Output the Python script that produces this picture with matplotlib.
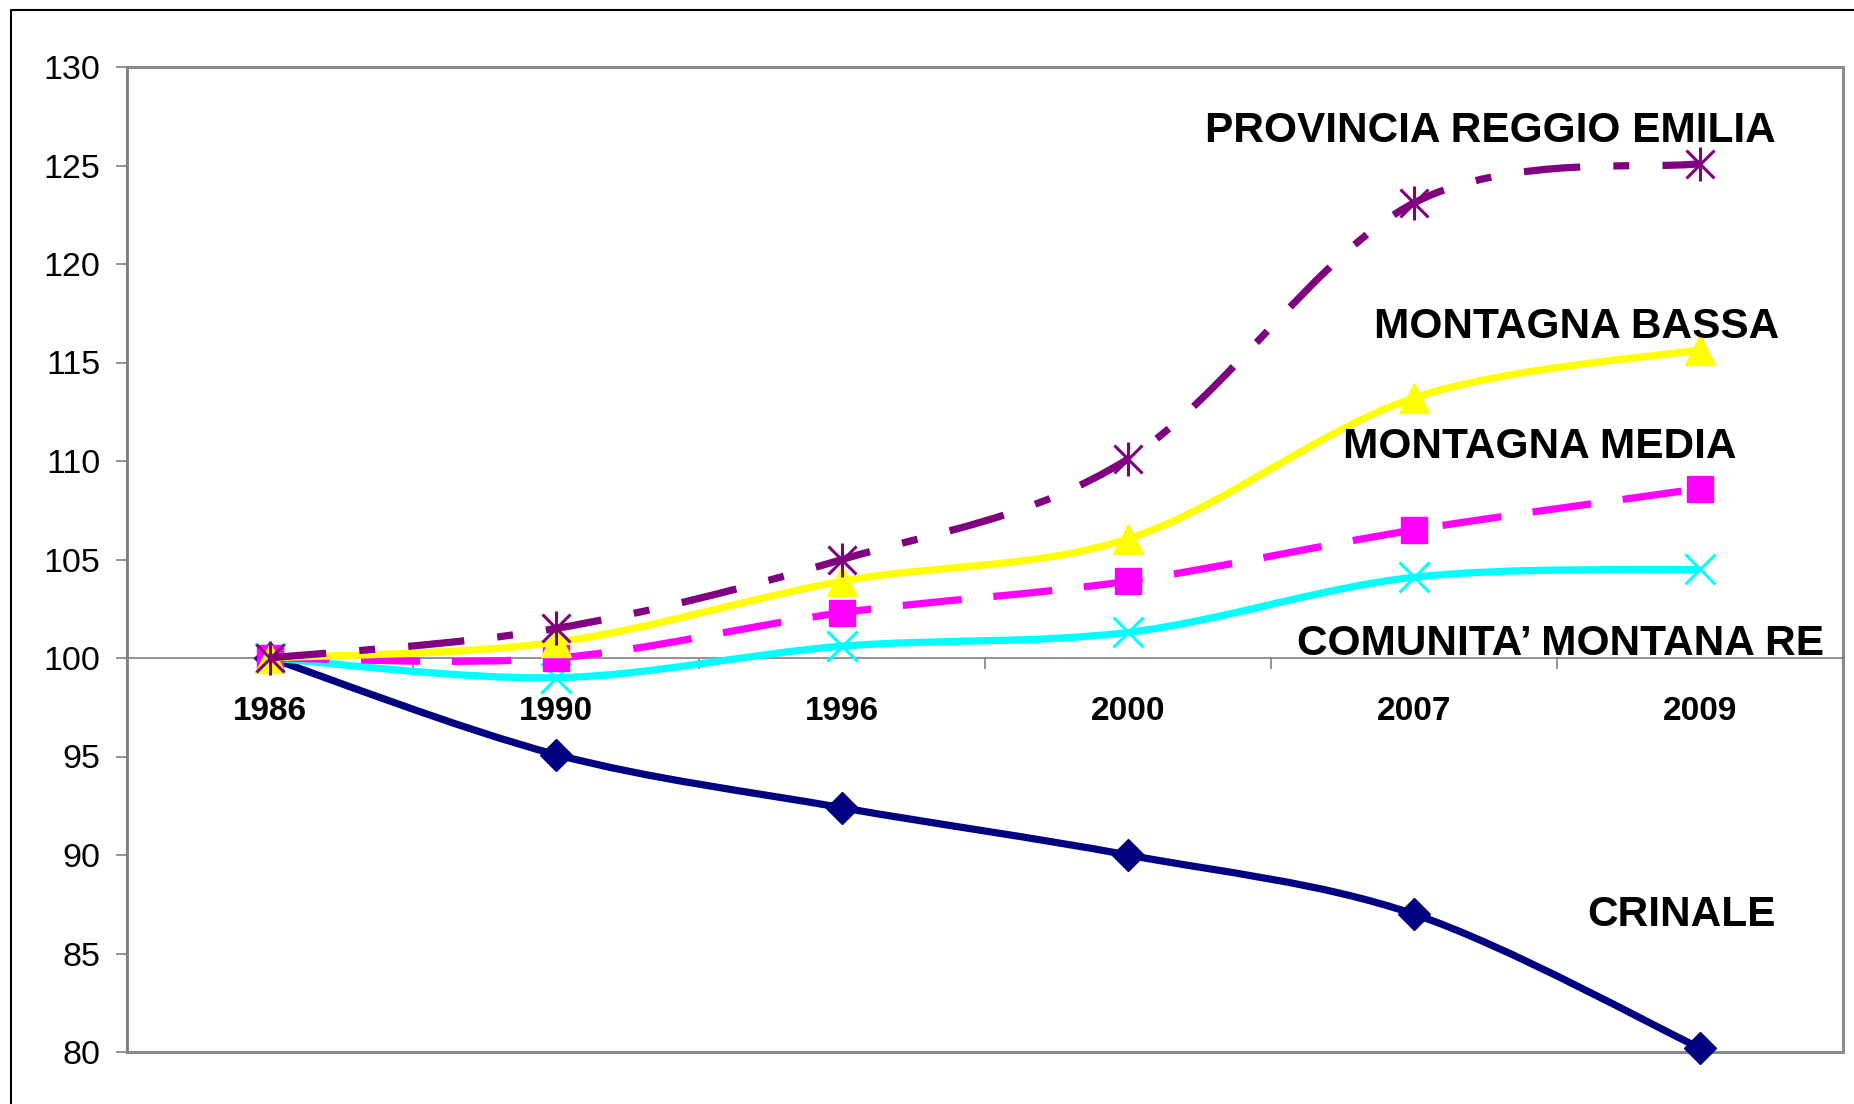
import numpy as np
import matplotlib
matplotlib.use('Agg')
import matplotlib.pyplot as plt
from matplotlib.path import Path
from matplotlib.patches import PathPatch, Rectangle
from matplotlib.lines import Line2D

# ---------------- data ----------------
years = ['1986', '1990', '1996', '2000', '2007', '2009']
provincia = [100, 101.5, 105.0, 110.1, 123.1, 125.1]
montagna_bassa = [100, 100.8, 103.9, 106.05, 113.2, 115.65]
montagna_media = [100, 100.0, 102.3, 103.9, 106.5, 108.6]
comunita = [100, 99.0, 100.6, 101.3, 104.1, 104.5]
crinale = [100, 95.1, 92.4, 90.0, 87.0, 80.2]
series_labels = ['PROVINCIA REGGIO EMILIA', 'MONTAGNA BASSA', 'MONTAGNA MEDIA',
                 'COMUNITA\u2019 MONTANA RE', 'CRINALE']
y_ticks = list(range(80, 131, 5))

plt.rcParams['font.family'] = ['Liberation Sans', 'DejaVu Sans']

W, H = 1854, 1104
fig = plt.figure(figsize=(W / 100, H / 100), dpi=100)
fig.patch.set_facecolor('white')
ax = fig.add_axes([127 / W, 1 - 1052 / H, (1843 - 127) / W, (1052 - 67) / H])
ax.set_xlim(-0.5, 5.5)
ax.set_ylim(80, 130)


def smooth_path(xs, ys):
    pts = np.column_stack([xs, ys]).astype(float)
    n = len(pts)
    verts = [pts[0]]
    codes = [Path.MOVETO]
    for i in range(n - 1):
        p0 = pts[i - 1] if i > 0 else pts[i]
        p1 = pts[i]
        p2 = pts[i + 1]
        p3 = pts[i + 2] if i + 2 < n else pts[i + 1]
        c1 = p1 + (p2 - p0) / 6.0
        c2 = p2 - (p3 - p1) / 6.0
        verts += [c1, c2, p2]
        codes += [Path.CURVE4] * 3
    return Path(verts, codes)


x = np.arange(len(years))
lw = 5.2

# draw order: bottom -> top
specs = [
    (crinale, '#000080', '-', [dict(marker='D', ms=16, mfc='#000080', mec='#000080', mew=1)]),
    (comunita, '#00FFFF', '-', [dict(marker='x', ms=21, mfc='none', mec='#00FFFF', mew=2.2)]),
    (montagna_media, '#FF00FF', (0, (8.2, 4.4)), [dict(marker='s', ms=19, mfc='#FF00FF', mec='#FF00FF', mew=1)]),
    (montagna_bassa, '#FFFF00', '-', [dict(marker='^', ms=21, mfc='#FFFF00', mec='#FFFF00', mew=1)]),
    (provincia, '#800080', (0, (7.8, 4.6, 2.2, 4.6)),
     [dict(marker='x', ms=20, mfc='none', mec='#800080', mew=2.2),
      dict(marker='|', ms=25, mfc='none', mec='#800080', mew=2.2)]),
]

z = 3
for vals, color, ls, markers in specs:
    patch = PathPatch(smooth_path(x, vals), fill=False, edgecolor=color, lw=lw,
                      linestyle=ls, capstyle='butt', joinstyle='round', zorder=z,
                      clip_on=False)
    ax.add_patch(patch)
    for m in markers:
        ax.plot(x, vals, linestyle='none', zorder=z + 0.5, clip_on=False, **m)
    z += 1

# ---------------- axes styling ----------------
gray = '#808080'
for s in ['top', 'right']:
    ax.spines[s].set_visible(False)
ax.spines['left'].set_color(gray)
ax.spines['left'].set_linewidth(1.5)
ax.spines['bottom'].set_position(('data', 100))
ax.spines['bottom'].set_color(gray)
ax.spines['bottom'].set_linewidth(1.2)
ax.spines['bottom'].set_zorder(2.5)

ax.add_patch(Rectangle((0, 0), 1, 1, transform=ax.transAxes, fill=False,
                       ec='#8a8a8a', lw=2.2, clip_on=False, zorder=2))

ax.set_xticks(x)
ax.set_xticklabels(years, fontweight='bold', fontsize=24)
ax.tick_params(axis='x', which='major', length=0, pad=27)
ax.set_xticks(np.arange(0.5, 5.0, 1.0), minor=True)
ax.tick_params(axis='x', which='minor', length=8, width=1.2, color=gray, direction='out')

ax.set_yticks(y_ticks)
ax.set_yticklabels([str(v) for v in y_ticks], fontsize=24.5)
ax.tick_params(axis='y', length=8, width=1.2, color=gray, direction='out', pad=11)

# ---------------- series labels ----------------
label_pos = [(3.269, 126.2), (3.859, 116.25), (3.752, 110.17), (3.591, 100.17), (4.605, 86.4)]
for txt, (lx, ly) in zip(series_labels, label_pos):
    ax.text(lx, ly, txt, fontsize=30.5, fontweight='bold', ha='left', va='baseline',
            color='black', zorder=10, clip_on=False)

# outer chart frame (left and top edges visible)
fig.add_artist(Line2D([11 / W, 11 / W, 1.0], [0, 1 - 10 / H, 1 - 10 / H],
                      transform=fig.transFigure, color='black', lw=1.5))

fig.savefig('out.png', dpi=100, facecolor='white')
